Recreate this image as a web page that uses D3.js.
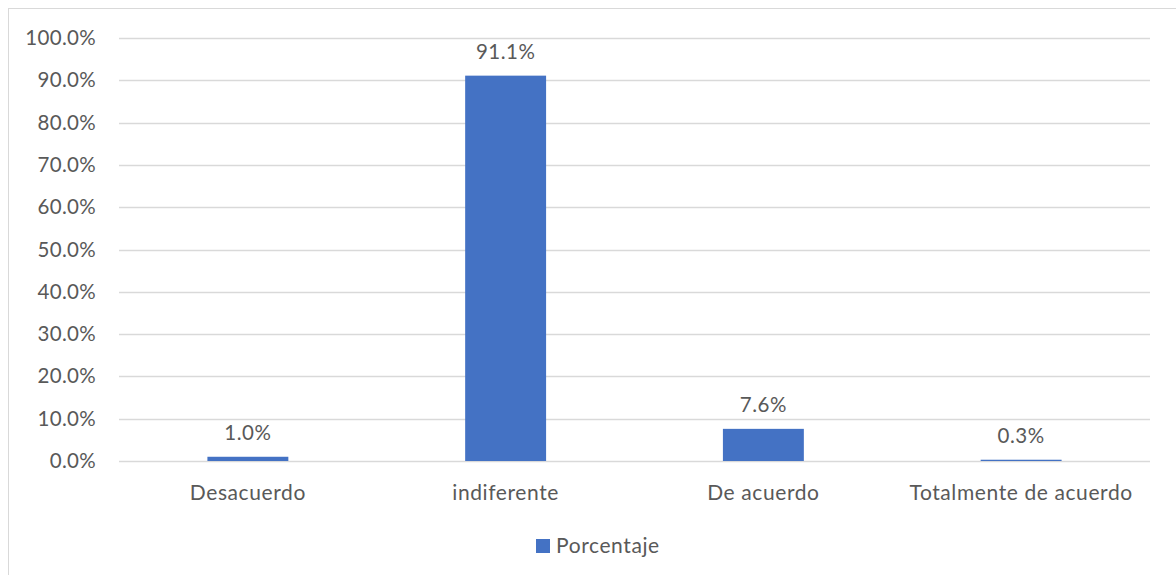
<!DOCTYPE html>
<html>
<head>
  <meta charset="utf-8">
  <script src="https://cdn.jsdelivr.net/npm/d3@7"></script>
  <style>
    body { margin: 0; background: #fff; }
    svg text { font-family: Lato, "Open Sans", sans-serif; fill: #595959; }
  </style>
</head>
<body>
  <svg id="chart" width="1176" height="575"></svg>
  <script>
    var categories = ['Desacuerdo', 'indiferente', 'De acuerdo', 'Totalmente de acuerdo'];
    var values = [1.0, 91.1, 7.6, 0.3];
    var yTicks = [0, 10, 20, 30, 40, 50, 60, 70, 80, 90, 100];
    var seriesName = 'Porcentaje';

    var svg = d3.select('#chart');
    var plotLeft = 119, plotRight = 1150, plotTop = 38, plotBottom = 461;
    var fontSize = 20.5;

    // chart frame
    svg.append('rect')
      .attr('x', 8.5).attr('y', 8.5)
      .attr('width', 1180).attr('height', 580)
      .attr('fill', 'none').attr('stroke', '#d9d9d9');

    var x = d3.scaleBand().domain(categories).range([plotLeft, plotRight])
      .paddingInner(0.686).paddingOuter(0.343);
    var y = d3.scaleLinear().domain([0, 100]).range([plotBottom, plotTop]);

    // gridlines
    svg.append('g').selectAll('line').data(yTicks).join('line')
      .attr('x1', plotLeft).attr('x2', plotRight)
      .attr('y1', function (d) { return Math.round(y(d)) + 0.5; })
      .attr('y2', function (d) { return Math.round(y(d)) + 0.5; })
      .attr('stroke', '#d9d9d9').attr('stroke-width', 1.3);

    // y tick labels
    svg.append('g').selectAll('text').data(yTicks).join('text')
      .attr('x', 96).attr('y', function (d) { return y(d) + 7; })
      .attr('text-anchor', 'end').attr('font-size', fontSize)
      .attr('letter-spacing', 0.3)
      .text(function (d) { return d.toFixed(1) + '%'; });

    // bars
    svg.append('g').selectAll('rect').data(values).join('rect')
      .attr('x', function (d, i) { return x(categories[i]); })
      .attr('width', x.bandwidth())
      .attr('y', function (d) { return y(d); })
      .attr('height', function (d) { return plotBottom - y(d); })
      .attr('fill', '#4472c4');

    // value labels
    svg.append('g').selectAll('text').data(values).join('text')
      .attr('x', function (d, i) { return x(categories[i]) + x.bandwidth() / 2; })
      .attr('y', function (d) { return y(d) - 17; })
      .attr('text-anchor', 'middle').attr('font-size', fontSize)
      .attr('letter-spacing', 0.5)
      .text(function (d) { return d.toFixed(1) + '%'; });

    // category labels
    svg.append('g').selectAll('text').data(categories).join('text')
      .attr('x', function (d) { return x(d) + x.bandwidth() / 2; })
      .attr('y', 500)
      .attr('text-anchor', 'middle').attr('font-size', 21)
      .attr('letter-spacing', 0.6)
      .text(function (d) { return d; });

    // legend
    svg.append('rect').attr('x', 536).attr('y', 539)
      .attr('width', 14).attr('height', 14).attr('fill', '#4472c4');
    svg.append('text').attr('x', 556).attr('y', 553)
      .attr('font-size', 21).attr('letter-spacing', 0.6).text(seriesName);
  </script>
</body>
</html>
